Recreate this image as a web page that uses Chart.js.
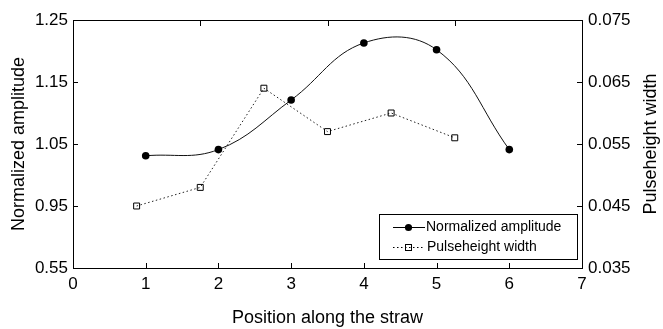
<!DOCTYPE html>
<html>
<head>
<meta charset="utf-8">
<script src="https://cdn.jsdelivr.net/npm/chart.js@4/dist/chart.umd.min.js"></script>
<style>
  html, body { margin: 0; padding: 0; background: #fff; }
  #wrap { width: 663px; height: 329px; position: relative; }
</style>
</head>
<body>
<div id="wrap"><canvas id="c" width="663" height="329"></canvas></div>
<script>
// ---- data ----
const positions = [1, 2, 3, 4, 5, 6];
const amplitude = [1.031, 1.041, 1.121, 1.213, 1.202, 1.041];
const widthPositions = [1, 2, 3, 4, 5, 6];           // on the secondary (top) x axis, 0..8
const pulseWidth = [0.045, 0.048, 0.064, 0.057, 0.060, 0.056];

const xTickValues = [0, 1, 2, 3, 4, 5, 6, 7];
const leftTickValues = [0.85, 0.95, 1.05, 1.15, 1.25];
const leftTickLabels = ['0.55', '0.95', '1.05', '1.15', '1.25'];
const rightTickValues = [0.035, 0.045, 0.055, 0.065, 0.075];
const rightTickLabels = ['0.035', '0.045', '0.055', '0.065', '0.075'];
const topTickValues = [2, 4, 6];

const seriesNames = ['Normalized amplitude', 'Pulseheight width'];
const xTitle = 'Position along the straw';
const leftTitle = 'Normalized amplitude';
const rightTitle = 'Pulseheight width';

const FONT = "'Liberation Sans', Arial, sans-serif";

// inward ticks, right-axis title and legend
const decorPlugin = {
  id: 'decor',
  afterDraw(chart) {
    const ctx = chart.ctx;
    const a = chart.chartArea;
    const sx = chart.scales.x, sy = chart.scales.y, sx2 = chart.scales.x2, sy2 = chart.scales.y2;
    const L = 5;
    ctx.save();
    ctx.strokeStyle = '#000';
    ctx.lineWidth = 1;
    ctx.beginPath();
    xTickValues.slice(1, -1).forEach(v => {
      const px = Math.round(sx.getPixelForValue(v)) + 0.5;
      ctx.moveTo(px, a.bottom); ctx.lineTo(px, a.bottom - L);
    });
    topTickValues.forEach(v => {
      const px = Math.round(sx2.getPixelForValue(v)) + 0.5;
      ctx.moveTo(px, a.top); ctx.lineTo(px, a.top + L + 1);
    });
    leftTickValues.slice(1, -1).forEach(v => {
      const py = Math.round(sy.getPixelForValue(v)) + 0.5;
      ctx.moveTo(a.left, py); ctx.lineTo(a.left + L, py);
    });
    rightTickValues.slice(1, -1).forEach(v => {
      const py = Math.round(sy2.getPixelForValue(v)) + 0.5;
      ctx.moveTo(a.right, py); ctx.lineTo(a.right - L, py);
    });
    ctx.stroke();

    // right title (reads bottom-to-top)
    ctx.save();
    ctx.translate(651, (a.top + a.bottom) / 2);
    ctx.rotate(-Math.PI / 2);
    ctx.fillStyle = '#000';
    ctx.font = '18px ' + FONT;
    ctx.textAlign = 'center';
    ctx.textBaseline = 'middle';
    ctx.fillText(rightTitle, 0, 0);
    ctx.restore();

    // legend
    const bx = 379.5, by = 214.5, bw = 198, bh = 45;
    ctx.fillStyle = '#fff';
    ctx.fillRect(bx, by, bw, bh);
    ctx.strokeStyle = '#000';
    ctx.strokeRect(bx, by, bw, bh);
    const r1 = 227.5, r2 = 247.5;
    ctx.strokeStyle = '#000';
    ctx.beginPath(); ctx.moveTo(393, r1); ctx.lineTo(425, r1); ctx.stroke();
    ctx.fillStyle = '#000';
    ctx.beginPath(); ctx.arc(408.5, r1, 3.6, 0, Math.PI * 2); ctx.fill();
    ctx.setLineDash([1.5, 2.5]);
    ctx.beginPath(); ctx.moveTo(393, r2); ctx.lineTo(425, r2); ctx.stroke();
    ctx.setLineDash([]);
    ctx.strokeRect(405.5, r2 - 3, 6, 6);
    ctx.font = '14px ' + FONT;
    ctx.textAlign = 'left';
    ctx.textBaseline = 'middle';
    ctx.fillText(seriesNames[0], 426, r1);
    ctx.fillText(seriesNames[1], 427, r2);
    ctx.restore();
  }
};

const tickFont = { family: FONT, size: 17 };
const titleFont = { family: FONT, size: 18 };

new Chart(document.getElementById('c'), {
  type: 'line',
  data: {
    datasets: [
      {
        label: seriesNames[0],
        data: positions.map((x, i) => ({ x, y: amplitude[i] })),
        xAxisID: 'x', yAxisID: 'y',
        borderColor: '#111', borderWidth: 1,
        pointRadius: 3.8, pointBackgroundColor: '#000', pointBorderColor: '#000', pointBorderWidth: 0,
        pointStyle: 'circle',
        tension: 0.4, fill: false
      },
      {
        label: seriesNames[1],
        data: widthPositions.map((x, i) => ({ x, y: pulseWidth[i] })),
        xAxisID: 'x2', yAxisID: 'y2',
        borderColor: '#222', borderWidth: 1, borderDash: [1.5, 2.5],
        pointStyle: 'rect', pointRadius: 4.2, pointBackgroundColor: 'rgba(0,0,0,0)',
        pointBorderColor: '#000', pointBorderWidth: 1,
        tension: 0, fill: false
      }
    ]
  },
  options: {
    responsive: false,
    animation: false,
    devicePixelRatio: 1,
    layout: { padding: 0 },
    plugins: { legend: { display: false }, tooltip: { enabled: false } },
    scales: {
      x: {
        type: 'linear', position: 'bottom', min: 0, max: 7,
        afterBuildTicks: s => { s.ticks = xTickValues.map(v => ({ value: v })); },
        ticks: { font: tickFont, color: '#000', padding: 6, maxRotation: 0, autoSkip: false },
        grid: { display: true, drawOnChartArea: false, drawTicks: false },
        border: { display: true, color: '#000', width: 1 },
        title: { display: true, text: xTitle, font: titleFont, color: '#000', padding: { top: 0, bottom: 0 } },
        afterFit: s => { s.height = 61; }
      },
      x2: {
        type: 'linear', position: 'top', min: 0, max: 8,
        afterBuildTicks: s => { s.ticks = topTickValues.map(v => ({ value: v })); },
        ticks: { display: false },
        grid: { display: true, drawOnChartArea: false, drawTicks: false },
        border: { display: true, color: '#000', width: 1 },
        afterFit: s => { s.height = 20; }
      },
      y: {
        type: 'linear', position: 'left', min: 0.85, max: 1.25,
        afterBuildTicks: s => { s.ticks = leftTickValues.map(v => ({ value: v })); },
        ticks: { font: tickFont, color: '#000', padding: 5, callback: (v, i) => leftTickLabels[i] },
        grid: { display: true, drawOnChartArea: false, drawTicks: false },
        border: { display: true, color: '#000', width: 1 },
        title: { display: true, text: leftTitle, font: titleFont, color: '#000', padding: { top: 8, bottom: 0 } },
        afterFit: s => { s.width = 73; }
      },
      y2: {
        type: 'linear', position: 'right', min: 0.035, max: 0.075,
        afterBuildTicks: s => { s.ticks = rightTickValues.map(v => ({ value: v })); },
        ticks: { font: tickFont, color: '#000', padding: 6, callback: (v, i) => rightTickLabels[i] },
        grid: { display: true, drawOnChartArea: false, drawTicks: false },
        border: { display: true, color: '#000', width: 1 },
        afterFit: s => { s.width = 81; }
      }
    }
  },
  plugins: [decorPlugin]
});
</script>
</body>
</html>
